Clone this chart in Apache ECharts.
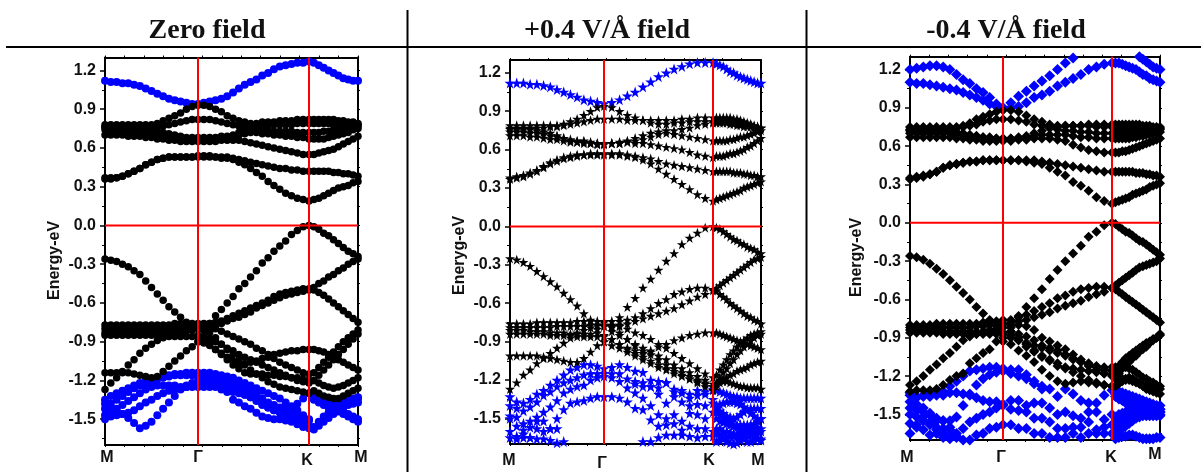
<!DOCTYPE html>
<html><head><meta charset="utf-8">
<style>html,body{margin:0;padding:0;background:#fff}#c{width:1201px;height:472px}</style>
<script src="https://cdn.jsdelivr.net/npm/echarts@6/dist/echarts.min.js"></script>
</head><body><div id="c"></div>
<script>
// energies in hundredths of eV; each band = M→Γ | Γ→K | K→M
const titles=["Zero field","+0.4 V/Å field","-0.4 V/Å field"];
const yNames=["Energy-eV","Eneryg-eV","Energy-eV"];
const yTicks=[-1.5,-1.2,-0.9,-0.6,-0.3,0,0.3,0.6,0.9,1.2];
const yMinor=[-1.65,-1.35,-1.05,-0.75,-0.45,-0.15,0.15,0.45,0.75,1.05];
const kLabels=["M","Γ","K","M"];
const kPos1=[0,93,204,253], kPos2=[0,94,203,251], kPos3=[0,93,202,250];
const k1=[0,5.81,11.63,17.44,23.25,29.06,34.88,40.69,46.5,52.31,58.13,63.94,69.75,75.56,81.38,87.19,93,98.84,104.68,110.53,116.37,122.21,128.05,133.89,139.74,145.58,151.42,157.26,163.11,168.95,174.79,180.63,186.47,192.32,198.16,204,208.9,213.8,218.7,223.6,228.5,233.4,238.3,243.2,248.1,253];
const k2=[0,6.71,13.43,20.14,26.86,33.57,40.29,47,53.71,60.43,67.14,73.86,80.57,87.29,94,101.79,109.57,117.36,125.14,132.93,140.71,148.5,156.29,164.07,171.86,179.64,187.43,195.21,203,206.43,209.86,213.29,216.71,220.14,223.57,227,230.43,233.86,237.29,240.71,244.14,247.57,251];
const k3=[0,6.64,13.29,19.93,26.57,33.21,39.86,46.5,53.14,59.79,66.43,73.07,79.71,86.36,93,100.79,108.57,116.36,124.14,131.93,139.71,147.5,155.29,163.07,170.86,178.64,186.43,194.21,202,205.43,208.86,212.29,215.71,219.14,222.57,226,229.43,232.86,236.29,239.71,243.14,246.57,250];

const p1cb=[112,111,111,110,110,109,108,106,104,102,100,98,97,96,95,94,94, 95,96,97,98,100,103,106,109,111,113,116,118,121,123,124,125,126,126,127, 126,124,122,120,118,116,114,113,112,112];
const p1c1=[36,36,37,38,40,42,44,47,49,51,52,53,53,53,53,53,53, 53,53,53,52,52,51,49,47,44,41,38,34,31,28,25,23,21,20,19, 20,21,23,25,27,29,30,31,33,34];
const p1c2=[37,37,37,38,40,42,44,47,49,51,52,53,53,53,53,53,54, 54,54,53,53,53,52,51,50,49,48,47,46,45,44,44,43,43,42,42, 42,42,42,42,41,41,40,40,39,38];
const p1c3=[70,70,70,70,69,69,69,68,68,67,67,66,66,65,65,65,65, 65,65,65,66,66,66,66,65,64,63,62,61,60,59,58,57,56,55,55, 55,56,57,58,59,61,63,65,67,69];
const p1c4=[74,74,73,73,73,72,72,71,71,70,69,69,68,67,67,66,66, 66,66,67,67,68,69,70,71,72,72,71,71,70,70,69,69,68,68,67, 67,67,67,68,69,70,71,72,74,75];
const p1c5=[76,76,76,76,76,76,76,76,76,76,77,78,79,80,81,82,82, 82,82,81,80,79,78,77,76,75,74,74,74,73,73,73,73,72,72,72, 72,72,73,73,74,74,75,76,76,77];
const p1c6=[78,78,78,78,78,78,78,78,78,79,81,83,85,87,90,92,93, 93,92,90,88,85,83,81,80,79,79,80,80,80,81,81,81,82,82,82, 82,82,82,82,82,81,81,80,80,79];
const p1c7=[76,76,76,75,75,75,75,75,74,73,72,71,70,69,68,68,68, 68,68,68,69,69,70,72,74,75,76,77,77,78,78,78,78,79,79,79, 79,79,79,79,78,78,78,78,78,78];
const p1v1=[-26,-27,-28,-30,-32,-35,-38,-43,-48,-53,-58,-63,-67,-71,-75,-80,-85, -81,-76,-70,-65,-60,-55,-49,-45,-40,-35,-29,-25,-20,-16,-12,-7,-4,-1,0, -1,-3,-6,-8,-11,-14,-17,-20,-22,-24];
const p1v2=[-77,-77,-77,-77,-77,-77,-77,-77,-77,-77,-77,-77,-76,-76,-76,-76,-76, -76,-76,-75,-74,-72,-70,-68,-66,-64,-62,-60,-58,-55,-53,-52,-51,-50,-49,-49, -50,-52,-54,-57,-60,-63,-66,-69,-72,-75];
const p1v3=[-80,-80,-80,-80,-80,-80,-80,-80,-80,-80,-80,-80,-80,-79,-79,-79,-79, -79,-78,-77,-76,-74,-72,-71,-69,-67,-64,-62,-60,-58,-56,-54,-53,-52,-51,-50, -48,-45,-43,-40,-38,-35,-33,-30,-28,-26];
const p1v4=[-83,-83,-83,-83,-83,-83,-83,-83,-83,-83,-83,-83,-82,-82,-81,-80,-78, -78,-79,-80,-82,-84,-86,-88,-90,-92,-95,-97,-100,-103,-106,-108,-110,-112,-114,-115, -114,-110,-106,-102,-98,-94,-90,-87,-84,-81];
const p1v5=[-85,-85,-85,-85,-85,-85,-85,-85,-85,-85,-86,-86,-86,-86,-86,-86,-86, -86,-88,-90,-92,-95,-97,-100,-102,-104,-106,-108,-110,-112,-114,-116,-118,-120,-121,-122, -120,-116,-112,-108,-104,-100,-96,-92,-88,-84];
const p1v6=[-127,-122,-118,-113,-108,-104,-99,-95,-92,-89,-87,-85,-84,-83,-82,-81,-80, -81,-83,-87,-92,-96,-100,-104,-108,-112,-115,-118,-121,-123,-125,-126,-127,-128,-129,-130, -128,-130,-132,-133,-134,-134,-132,-130,-128,-126];
const p1v7=[-114,-114,-114,-114,-114,-115,-116,-117,-118,-117,-113,-109,-105,-101,-97,-94,-90, -90,-92,-96,-100,-104,-108,-111,-114,-115,-115,-115,-116,-116,-117,-117,-118,-118,-119,-120, -120,-122,-124,-125,-126,-125,-124,-122,-120,-118];
const p1v8=[null,null,null,null,null,null,null,null,null,null,null,null,null,null,null,null,-90, -91,-93,-96,-99,-102,-105,-107,-107,-106,-105,-103,-102,-100,-99,-98,-97,-97,-96,-96, -96,-97,-98,-100,-102,-104,-106,-108,-110,-112];
const p1b1=[-135,-132,-130,-128,-126,-124,-122,-120,-119,-118,-117,-116,-115,-115,-114,-114,-114, -114,-114,-115,-116,-117,-118,-120,-122,-124,-126,-128,-130,-132,-134,-137,-140,-143,-147,-150, -132,-134,-136,-138,-140,-142,-144,-146,-148,-150];
const p1b2=[-142,-138,-135,-132,-129,-126,-124,-122,-120,-119,-118,-117,-116,-116,-116,-116,-116, -116,-116,-117,-119,-121,-122,-124,-126,-128,-131,-134,-137,-139,-141,-142,-144,-146,-148,-151, -135,-137,-139,-141,-142,-144,-146,-148,-150,-152];
const p1b3=[-147,-145,-142,-139,-136,-133,-130,-127,-125,-124,-124,-124,-124,-125,-125,-125,-125, -125,-125,-124,-124,-125,-127,-129,-131,-133,-136,-139,-141,-143,-145,-146,-148,-150,-153,-155, -156,-152,-148,-145,-142,-139,-137,-135,-134,-133];
const p1b4=[-138,-141,-143,-146,-149,-153,-157,-155,-152,-147,-142,-137,-132,-127,-124,-122,-120, -120,-120,-121,-123,-129,-135,-137,-140,-142,-145,-148,-149,-150,-150,-151,-152,-154,-156,-157, -158,-155,-152,-149,-146,-143,-141,-139,-138,-137];
const p1b5=[-150,-148,-147,-146,-145,-143,-140,-137,-135,-132,-130,-128,-127,-126,-125,-124,-123, -123,-124,-125,-127,-128,-129,-130,-131,-133,-135,-138,-141,-143,-144,-145,-143,-138,-134,-130, -131,-132,-133,-134,-135,-136,-136,-136,-135,-134];

const p2cb=[112,112,112,111,111,110,109,107,105,103,101,99,98,97,96, 97,99,102,105,109,113,117,120,123,125,127,128,128,128, 127,126,125,123,121,120,118,117,116,115,114,113,112,112];
const p2c1=[37,38,39,41,43,46,49,51,53,54,55,56,56,56,56, 56,56,55,54,52,49,45,41,37,33,29,25,22,20, 21,22,23,24,25,26,27,28,30,31,32,33,34,35];
const p2c2=[38,39,40,42,44,47,50,52,54,55,56,56,57,57,57, 57,57,56,55,54,53,51,49,48,47,46,45,44,43, 43,43,43,43,43,42,42,42,41,41,40,40,39,39];
const p2c3=[71,71,71,70,70,69,68,68,67,66,66,65,65,64,64, 65,65,66,65,65,64,63,62,61,60,58,56,55,54, 55,55,55,56,57,57,58,59,60,62,63,65,67,69];
const p2c4=[74,74,74,73,73,72,71,70,69,68,67,67,66,65,65, 65,65,66,67,68,70,72,73,72,71,70,69,68,67, 67,67,67,67,68,68,69,70,70,71,72,73,74,75];
const p2c5=[77,77,77,77,77,77,78,78,79,80,81,82,83,84,84, 84,84,83,83,83,83,83,83,83,84,84,85,85,85, 85,85,85,85,85,84,84,83,82,81,80,79,78,77];
const p2c6=[79,79,79,79,79,79,79,79,80,82,84,87,90,93,94, 93,90,87,85,83,81,80,80,81,81,82,82,82,82, 82,82,82,82,82,81,81,80,80,79,79,78,78,77];
const p2c7=[76,76,76,76,75,74,73,71,69,67,66,66,65,65,65, 65,66,67,69,71,73,74,75,75,76,77,79,80,81, 81,81,81,81,80,80,79,79,78,78,78,77,77,77];
const p2v1=[-25,-26,-28,-31,-35,-39,-43,-47,-52,-57,-62,-68,-73,-80,-86, -79,-71,-63,-56,-48,-41,-34,-27,-21,-14,-9,-5,-1,0, -1,-2,-4,-6,-8,-10,-11,-13,-14,-16,-17,-18,-20,-21];
const p2v2=[-76,-76,-76,-76,-75,-75,-75,-75,-75,-75,-74,-74,-74,-74,-74, -74,-74,-73,-71,-68,-64,-60,-57,-53,-51,-49,-48,-48,-49, -50,-53,-55,-57,-60,-62,-64,-66,-68,-70,-71,-73,-74,-76];
const p2v3=[-79,-79,-79,-79,-79,-79,-79,-78,-78,-78,-78,-78,-77,-77,-77, -78,-77,-76,-74,-72,-70,-68,-66,-64,-61,-58,-55,-53,-50, -48,-46,-44,-42,-40,-38,-36,-34,-32,-30,-28,-26,-25,-24];
const p2v4=[-81,-81,-81,-82,-82,-82,-83,-83,-83,-84,-84,-84,-84,-83,-78, -77,-78,-80,-83,-85,-88,-92,-95,-99,-103,-107,-111,-115,-118, -116,-112,-108,-104,-100,-97,-94,-91,-89,-87,-85,-84,-83,-82];
const p2v5=[-84,-84,-84,-84,-84,-84,-85,-85,-85,-85,-86,-86,-86,-86,-85, -82,-85,-88,-92,-95,-98,-101,-104,-108,-111,-114,-117,-120,-123, -122,-120,-119,-118,-116,-115,-113,-112,-111,-110,-108,-107,-106,-105];
const p2v6=[-127,-122,-116,-112,-107,-103,-99,-95,-91,-87,-83,-81,-79,-77,-75, -78,-83,-88,-93,-97,-100,-104,-108,-111,-114,-117,-120,-122,-125, -123,-118,-114,-111,-107,-104,-100,-97,-94,-92,-89,-87,-85,-84];
const p2v7=[-101,-101,-101,-101,-101,-102,-103,-104,-105,-106,-106,-103,-98,-93,-90, -88,-92,-96,-99,-102,-105,-108,-111,-113,-116,-119,-122,-125,-128, -125,-122,-121,-121,-122,-123,-124,-125,-125,-126,-126,-126,-126,-127];
const p2v8=[null,null,null,null,null,null,null,null,null,null,null,null,null,null,-90, -88,-92,-95,-97,-99,-97,-94,-92,-89,-87,-85,-84,-83,-83, -83,-84,-85,-86,-87,-88,-89,-90,-91,-92,-93,-94,-95,-96];
const p2v9=[null,null,null,null,null,null,null,null,null,null,null,null,null,null,null, -93,-95,-98,-101,-104,-107,-110,-112,-115,-117,-119,-121,-123,-125, null,null,null,null,null,null,null,null,null,null,null,null,null,null];
const p2b1=[-133,-137,-138,-135,-131,-128,-124,-120,-116,-112,-110,-108,-108,-109,-111, -110,-108,-110,-113,-114,-120,-121,-122,-127,-130,-134,-132,-131,-127, -128,-129,-130,-131,-132,-133,-133,-134,-134,-134,-134,-134,-134,-134];
const p2b2=[-140,-142,-144,-141,-137,-132,-129,-125,-122,-120,-118,-116,-115,-115,-115, -115,-115,-119,-121,-122,-125,-126,-122,-129,-128,-131,-128,-129,-135, -140,-139,-138,-137,-137,-137,-138,-139,-141,-143,-146,-148,-150,-150];
const p2b3=[-148,-149,-154,-152,-149,-145,-141,-136,-130,-127,-125,-124,-120,-118,-117, -118,-121,-126,-130,-134,-140,-147,-150,-147,-152,-146,-147,-150,-145, -142,-144,-146,-148,-149,-150,-149,-147,-145,-143,-142,-142,-142,-142];
const p2b4=[-150,-156,-159,-157,-152,-152,-158,-150,-143,-138,-137,-136,-134,-133,-133, -133,-134,-137,-142,-143,-151,-156,-155,-154,-159,-156,-158,-158,-160, -145,-147,-149,-151,-153,-155,-155,-155,-155,-155,-155,-156,-157,-158];
const p2b5=[-160,-164,-162,-165,-158,-160,-158,-158,-168,null,null,null,null,null,null, null,null,null,null,-168,-168,-165,-163,-163,-163,-164,-165,-164,-164, -150,-152,-153,-154,-155,-156,-157,-158,-158,-158,-156,-154,-152,-150];
const p2b6=[-165,-166,-165,-165,-166,-166,-167,-169,null,null,null,null,null,null,null, null,null,null,-123,-125,-125,-131,-138,-133,-137,-140,-139,-140,-138, -158,-158,-160,-160,-161,-162,-162,-162,-161,-160,-160,-160,-160,-160];
const p2b7=[null,null,null,null,null,null,null,null,null,null,null,null,null,null,null, null,null,null,null,null,null,null,null,null,null,null,null,null,null, -162,-163,-165,-168,-169,-170,-169,-167,-165,-163,-163,-163,-165,-167];
const p2b8=[null,null,null,null,null,null,null,null,null,null,null,null,null,null,null, null,null,null,null,null,null,null,null,null,null,null,null,null,null, -168,-167,-166,-165,-164,-164,-164,-165,-166,-168,-168,-167,-166,-166];

const p3cb1=[120,121,122,123,123,122,120,116,112,109,105,102,98,93,90, 94,99,103,107,111,115,120,125,129,132,134,135,135,135, 135,135,135,134,133,132,131,130,128,126,124,122,121,120];
const p3cb2=[110,109,109,108,107,106,105,104,102,100,98,96,93,91,90, 90,91,94,98,100,103,107,110,113,116,120,122,124,125, 125,125,124,123,122,121,120,118,116,115,113,112,111,110];
const p3c1=[34,35,36,38,40,43,45,46,47,48,48,49,49,49,49, 49,49,48,47,46,43,40,37,32,29,25,20,17,15, 16,17,18,19,20,22,23,24,25,26,28,29,30,31];
const p3c2=[35,36,37,38,40,43,45,46,47,48,48,49,49,49,49, 49,49,49,49,48,47,46,45,44,43,42,41,40,40, 40,40,40,40,40,40,39,39,39,38,38,37,37,36];
const p3c3=[67,67,67,67,67,67,67,66,66,65,65,64,64,64,64, 64,65,65,66,66,66,65,64,61,59,57,56,55,55, 55,55,56,56,57,58,59,60,61,62,63,64,65,66];
const p3c4=[70,70,70,70,70,70,70,69,69,68,68,67,67,66,66, 66,66,67,68,69,69,69,69,68,67,67,66,66,66, 66,66,66,66,66,67,67,68,68,69,69,70,70,71];
const p3c5=[73,73,73,73,73,73,73,74,75,76,77,79,80,81,81, 81,80,79,77,76,75,73,72,72,71,71,70,70,70, 70,70,71,71,71,71,72,72,72,72,72,72,73,73];
const p3c6=[75,75,75,75,75,75,75,75,76,78,81,83,85,87,88, 88,87,84,81,79,77,76,76,76,76,77,77,77,77, 77,77,77,77,77,77,77,77,76,76,76,75,75,75];
const p3c7=[72,72,72,72,72,72,71,71,70,69,68,67,66,66,66, 66,67,68,70,72,74,75,76,76,76,76,75,75,75, 75,75,75,75,75,75,75,75,74,74,74,74,74,74];
const p3v1=[-26,-27,-29,-32,-36,-40,-45,-50,-55,-60,-66,-71,-76,-84,-93, -80,-73,-66,-59,-52,-44,-37,-30,-24,-18,-11,-7,-2,0, -1,-3,-5,-7,-8,-10,-12,-14,-15,-17,-19,-21,-23,-25];
const p3v2=[-80,-80,-80,-80,-79,-79,-79,-79,-79,-79,-79,-78,-77,-77,-76, -76,-74,-72,-69,-66,-63,-59,-57,-54,-52,-51,-50,-50,-51, -52,-54,-56,-58,-60,-62,-64,-66,-68,-70,-72,-74,-76,-78];
const p3v3=[-82,-82,-82,-82,-82,-82,-82,-82,-82,-82,-81,-81,-80,-80,-79, -78,-77,-76,-74,-72,-70,-67,-65,-63,-61,-58,-56,-54,-51, -49,-47,-45,-43,-41,-39,-37,-35,-34,-33,-32,-31,-30,-28];
const p3v4=[-84,-84,-84,-84,-84,-85,-85,-85,-85,-85,-85,-86,-86,-86,-86, -82,-80,-81,-84,-90,-93,-96,-99,-103,-107,-110,-113,-115,-116, -115,-112,-109,-106,-104,-102,-100,-98,-96,-94,-93,-91,-90,-88];
const p3v5=[-86,-86,-86,-86,-86,-87,-87,-87,-87,-87,-87,-87,-87,-87,-87, -85,-87,-89,-92,-96,-98,-100,-103,-106,-109,-112,-115,-118,-120, -120,-118,-114,-111,-109,-106,-104,-101,-99,-97,-94,-92,-90,-87];
const p3v6=[-127,-124,-120,-115,-111,-106,-102,-97,-92,-89,-87,-85,-84,-83,-82, -85,-90,-95,-100,-104,-107,-110,-114,-117,-120,-123,-125,-127,-128, -122,-122,-122,-123,-123,-124,-125,-126,-127,-128,-128,-129,-130,-130];
const p3v7=[-132,-131,-131,-131,-130,-127,-123,-120,-118,-110,-106,-102,-99,-93,-90, -95,-100,-104,-109,-115,-120,-124,-126,-125,-124,-125,-126,-127,-128, -128,-126,-124,-122,-121,-122,-124,-126,-128,-130,-131,-132,-133,-134];
const p3v8=[null,null,null,null,null,null,null,null,null,null,null,null,null,null,null, -90,-92,-94,-96,-98,-100,-102,-104,-107,-109,-111,-112,-113,-113, -113,-113,-113,-113,-114,-115,-117,-119,-121,-122,-124,-125,-127,-128];
const p3v9=[null,null,null,null,null,null,null,null,null,null,null,null,null,null,null, -88,-92,-97,-101,-105,-108,-112,-113,-114,-115,-116,-117,-118,-119, null,null,null,null,null,null,null,null,null,null,null,null,null,null];
const p3b1=[-133,-136,-135,-133,-132,-132,-128,-124,-120,-116,-115,-114,-113,-113,-114, -115,-115,-119,-124,-130,-130,-136,-130,-134,-139,-141,-141,-135,-131, -131,-132,-133,-134,-135,-136,-137,-138,-139,-140,-141,-142,-143,-143];
const p3b2=[-135,-137,-136,-136,-135,-135,-133,-133,-134,-135,-137,-139,-140,-140,-142, -139,-139,-143,-141,-141,-145,-150,-148,-151,-153,-148,-148,-154,-150, -134,-135,-136,-137,-138,-139,-140,-141,-142,-143,-144,-145,-146,-146];
const p3b3=[-140,-142,-145,-149,-153,-155,-155,-152,-143,-134,-127,-122,-119,-117,-116, -146,-147,-148,-153,-153,-156,-161,-161,-160,-160,-156,-162,-160,-158, -136,-138,-139,-141,-142,-143,-144,-145,-146,-147,-147,-148,-148,-148];
const p3b4=[-150,-152,-148,-150,-155,-155,-160,-168,-161,-156,-153,-150,-148,-145,-143, -158,-161,-161,-165,-165,-168,-168,-168,-165,-168,-165,-165,-165,-165, -152,-150,-149,-148,-147,-146,-145,-145,-145,-145,-145,-145,-146,-146];
const p3b5=[-157,-158,-155,-158,-162,-161,-162,-165,-170,-170,-166,-165,-161,-160,-158, -118,-120,-122,-126,-128,null,null,null,null,null,null,null,null,null, -160,-158,-156,-154,-152,-150,-148,-147,-147,-147,-147,-147,-148,-148];
const p3b6=[-165,-160,-162,-166,-165,-168,-167,-167,null,null,null,null,null,null,null, null,null,null,null,null,null,null,null,null,null,null,null,null,null, -165,-163,-161,-159,-157,-155,-153,-152,-151,-151,-151,-151,-151,-151];
const p3b7=[-145,-147,-152,-156,-160,-165,-169,null,null,null,null,null,null,null,null, null,null,null,null,null,null,null,null,null,null,null,null,null,null, -169,-168,-167,-167,-166,-166,-167,-168,-169,-169,-169,-169,-168,-168];
const p3b8=[null,null,null,null,null,null,null,null,null,null,null,null,null,null,null, null,null,null,null,null,null,null,null,null,null,null,null,null,null, -156,-154,-152,-150,-149,-148,-148,-148,-149,-149,-149,-150,-150,-150];

const STAR="path://M50 0 L62 35 L98 35 L68 57 L79 91 L50 70 L21 91 L32 57 L2 35 L38 35 Z";
const panels=[
 {k:k1,pos:kPos1,blue:[p1b1,p1b2,p1b3,p1b4,p1b5,p1cb],black:[p1c1,p1c2,p1c3,p1c4,p1c5,p1c6,p1c7,p1v1,p1v2,p1v3,p1v4,p1v5,p1v6,p1v7,p1v8],
  sym:"circle",size:8,bsize:7.5,l:105,r:358,t:57.5,b:445,tx:207,ty:40,
  nx:60,ny:300,lab:[[107,463],[198,463],[307,466],[361,463]]},
 {k:k2,pos:kPos2,blue:[p2b1,p2b2,p2b3,p2b4,p2b5,p2b6,p2b7,p2b8,p2cb],black:[p2c1,p2c2,p2c3,p2c4,p2c5,p2c6,p2c7,p2v1,p2v2,p2v3,p2v4,p2v5,p2v6,p2v7,p2v8,p2v9],
  sym:STAR,size:11,bsize:10,l:510,r:761,t:60,b:444,tx:607,ty:40,
  nx:465,ny:295,lab:[[509,466],[602,469],[709,466],[758,466]]},
 {k:k3,pos:kPos3,blue:[p3b1,p3b2,p3b3,p3b4,p3b5,p3b6,p3b7,p3b8,p3cb1,p3cb2],black:[p3c1,p3c2,p3c3,p3c4,p3c5,p3c6,p3c7,p3v1,p3v2,p3v3,p3v4,p3v5,p3v6,p3v7,p3v8,p3v9],
  sym:"diamond",size:11,bsize:10,l:910,r:1160,t:56.7,b:440,tx:1006,ty:40,
  nx:862,ny:297,lab:[[907,463],[1001,463],[1111,463],[1155,460]]}
];
const W=1201,H=472,YMIN=-1.7,YMAX=1.3,MID=0.32;
const grid=[],xAxis=[],yAxis=[],series=[],graphic=[];
const axisLine={show:true,onZero:false,lineStyle:{color:"#000",width:2}};
panels.forEach((p,i)=>{
  grid.push({left:p.l,top:p.t,width:p.r-p.l,height:p.b-p.t,containLabel:false});
  const end=p.pos[3];
  const xb=xAxis.length;
  const xTickVals=[];for(let v=0;v<=end;v+=end/13)xTickVals.push(v);
  xAxis.push({type:"value",gridIndex:i,min:0,max:end,position:"bottom",splitLine:{show:false},axisLine,
    axisLabel:{show:false},axisTick:{show:true,inside:false,length:2,lineStyle:{color:"#000",width:1},customValues:xTickVals}});
  xAxis.push({type:"value",gridIndex:i,min:0,max:end,position:"top",splitLine:{show:false},axisLine,
    axisLabel:{show:false},axisTick:{show:true,inside:false,length:2,lineStyle:{color:"#000",width:1},customValues:xTickVals}});
  const yb=yAxis.length;
  yAxis.push({type:"value",gridIndex:i,min:YMIN,max:YMAX,position:"left",splitLine:{show:false},axisLine,
    axisTick:{show:true,length:5,lineStyle:{color:"#000",width:1.5},customValues:yTicks},
    axisLabel:{show:true,margin:9,customValues:yTicks,formatter:v=>Number(v).toFixed(1),
      fontFamily:"Liberation Sans",fontWeight:"bold",fontSize:16,color:"#111"}});
  yAxis.push({type:"value",gridIndex:i,min:YMIN,max:YMAX,position:"left",splitLine:{show:false},axisLine:{show:false},
    axisLabel:{show:false},axisTick:{show:true,length:3,lineStyle:{color:"#000",width:1},customValues:yMinor}});
  yAxis.push({type:"value",gridIndex:i,min:YMIN,max:YMAX,position:"right",splitLine:{show:false},axisLine,
    axisLabel:{show:false},axisTick:{show:true,length:2,lineStyle:{color:"#000",width:1},customValues:yTicks.concat(yMinor)}});
  const add=(band,color,z,size)=>series.push({type:"scatter",xAxisIndex:xb,yAxisIndex:yb,symbol:p.sym,symbolSize:size,z,
    itemStyle:{color,opacity:1},silent:true,animation:false,
    data:band.map((v,j)=>[p.k[j],v===null?null:v/100]).filter(d=>d[1]!==null)});
  p.blue.forEach(b=>add(b,"#0000ff",2,p.size));
  p.black.forEach(b=>add(b,"#000000",3,p.bsize));
  const red=d=>series.push({type:"line",xAxisIndex:xb,yAxisIndex:yb,data:d,symbol:"none",z:5,silent:true,animation:false,
    lineStyle:{color:"#ff0000",width:2}});
  red([[p.pos[1],YMIN],[p.pos[1],YMAX]]);
  red([[p.pos[2],YMIN],[p.pos[2],YMAX]]);
  red([[0,0],[end,0]]);
  graphic.push({type:"text",x:p.tx,y:p.ty-28*MID,style:{text:titles[i],align:"center",verticalAlign:"middle",
    font:"bold 28px 'Liberation Serif'",fill:"#111"}});
  graphic.push({type:"text",x:p.nx-16*MID,y:p.ny,rotation:Math.PI/2,style:{text:yNames[i],align:"left",verticalAlign:"middle",
    font:"bold 16px 'Liberation Sans'",fill:"#111"}});
  kLabels.forEach((t,j)=>graphic.push({type:"text",x:p.lab[j][0],y:p.lab[j][1]-16*MID,style:{text:t,align:"center",verticalAlign:"middle",
    font:"bold 16px 'Liberation Sans'",fill:"#111"}}));
});
const rule=(x1,y1,x2,y2)=>graphic.push({type:"line",shape:{x1,y1,x2,y2},style:{stroke:"#000",lineWidth:2}});
rule(6,47,W,47);rule(407.5,10,407.5,H);rule(806.5,10,806.5,H);
const chart=echarts.init(document.getElementById("c"),null,{renderer:"canvas",width:W,height:H});
chart.setOption({animation:false,backgroundColor:"#fff",grid,xAxis,yAxis,series,graphic});
</script></body></html>
